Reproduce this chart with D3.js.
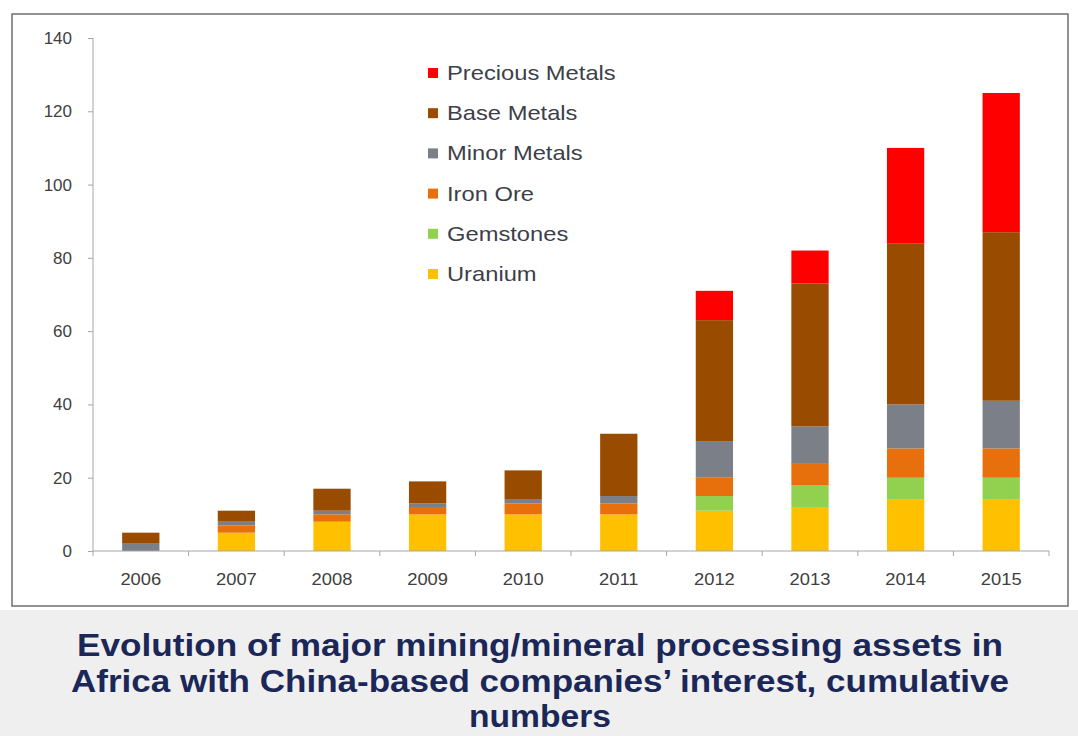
<!DOCTYPE html>
<html>
<head>
<meta charset="utf-8">
<script src="https://d3js.org/d3.v7.min.js"></script>
<style>
body {margin: 0; background: #efefef;}
svg {display: block;}
.axis text {font-family: "Liberation Sans", Arial, sans-serif; font-size: 17px; fill: #404040;}
.legend text {font-family: "Liberation Sans", Arial, sans-serif; font-size: 21px; fill: #3c3f4a;}
.title {font-family: "Liberation Sans", Arial, sans-serif; font-weight: bold; font-size: 31px; fill: #1b2757; text-anchor: middle;}
</style>
</head>
<body>
<svg width="1078" height="736"></svg>
<script>
var years = ["2006","2007","2008","2009","2010","2011","2012","2013","2014","2015"];
var uranium   = [0, 5, 8, 10, 10, 10, 11, 12, 14, 14];
var gemstones = [0, 0, 0, 0, 0, 0, 4, 6, 6, 6];
var ironOre   = [0, 2, 2, 2, 3, 3, 5, 6, 8, 8];
var minor     = [2, 1, 1, 1, 1, 2, 10, 10, 12, 13];
var base      = [3, 3, 6, 6, 8, 17, 33, 39, 44, 46];
var precious  = [0, 0, 0, 0, 0, 0, 8, 9, 26, 38];
var seriesNames = ["Uranium","Gemstones","Iron Ore","Minor Metals","Base Metals","Precious Metals"];
var seriesColors = ["#ffc000","#92d050","#e8700c","#7b7f88","#994c00","#ff0000"];
var yTicks = [0, 20, 40, 60, 80, 100, 120, 140];
var titleLines = ["Evolution of major mining/mineral processing assets in",
                  "Africa with China-based companies\u2019 interest, cumulative",
                  "numbers"];
var titleWidths = [926, 938, 142];

var svg = d3.select("svg");

// white chart panel
svg.append("rect").attr("x", 0).attr("y", 0).attr("width", 1078).attr("height", 610).attr("fill", "#ffffff");
svg.append("rect").attr("x", 12).attr("y", 14).attr("width", 1056).attr("height", 592)
  .attr("fill", "#ffffff").attr("stroke", "#6f6f6f").attr("stroke-width", 1.5);

var table = years.map(function(y, i) {
  return {year: y, "Uranium": uranium[i], "Gemstones": gemstones[i], "Iron Ore": ironOre[i],
          "Minor Metals": minor[i], "Base Metals": base[i], "Precious Metals": precious[i]};
});
var stacked = d3.stack().keys(seriesNames)(table);

var x = d3.scaleBand().domain(years).range([93, 1049]).paddingInner(0.61).paddingOuter(0.305);
var y = d3.scaleLinear().domain([0, 140]).range([551, 38]);
var color = d3.scaleOrdinal().domain(seriesNames).range(seriesColors);

svg.append("g").selectAll("g").data(stacked).enter().append("g")
  .attr("fill", function(d) { return color(d.key); })
  .selectAll("rect").data(function(d) { return d; }).enter().append("rect")
  .attr("x", function(d) { return x(d.data.year); })
  .attr("width", x.bandwidth())
  .attr("y", function(d) { return y(d[1]); })
  .attr("height", function(d) { return y(d[0]) - y(d[1]); });

// y axis
var yAxis = svg.append("g").attr("class", "axis").attr("transform", "translate(93,0)")
  .call(d3.axisLeft(y).tickValues(yTicks).tickSize(5).tickPadding(16));
yAxis.selectAll("line, path").attr("stroke", "#a6a6a6");
yAxis.select(".domain").attr("d", "M0," + y(140) + "V" + y(0));

// x axis with ticks between categories
var xAxis = svg.append("g").attr("class", "axis").attr("transform", "translate(0,551)")
  .call(d3.axisBottom(x).tickSize(0).tickPadding(22));
xAxis.select(".domain").attr("stroke", "#a6a6a6").attr("d", "M93,0H1049");
xAxis.selectAll(".tick text").attr("transform", "scale(1.08,1)");
var bounds = years.map(function(d) { return x(d) - x.step() * x.paddingOuter(); }).concat([1049]);
xAxis.selectAll(".sep").data(bounds).enter().append("line")
  .attr("x1", function(d) { return d; }).attr("x2", function(d) { return d; })
  .attr("y1", 0).attr("y2", 5).attr("stroke", "#a6a6a6");

// legend
var legendOrder = seriesNames.slice().reverse();
var legend = svg.append("g").attr("class", "legend").selectAll("g").data(legendOrder).enter().append("g")
  .attr("transform", function(d, i) { return "translate(428," + (73 + i * 40.2) + ")"; });
legend.append("rect").attr("x", 0).attr("y", -5).attr("width", 10).attr("height", 10)
  .attr("fill", function(d) { return color(d); });
legend.append("text").attr("transform", "translate(19,7) scale(1.13,1)").text(function(d) { return d; });

// caption
svg.selectAll(".title").data(titleLines).enter().append("text")
  .attr("class", "title")
  .attr("x", 540)
  .attr("y", function(d, i) { return 656 + i * 35.5; })
  .attr("textLength", function(d, i) { return titleWidths[i]; })
  .attr("lengthAdjust", "spacingAndGlyphs")
  .text(function(d) { return d; });
</script>
</body>
</html>
